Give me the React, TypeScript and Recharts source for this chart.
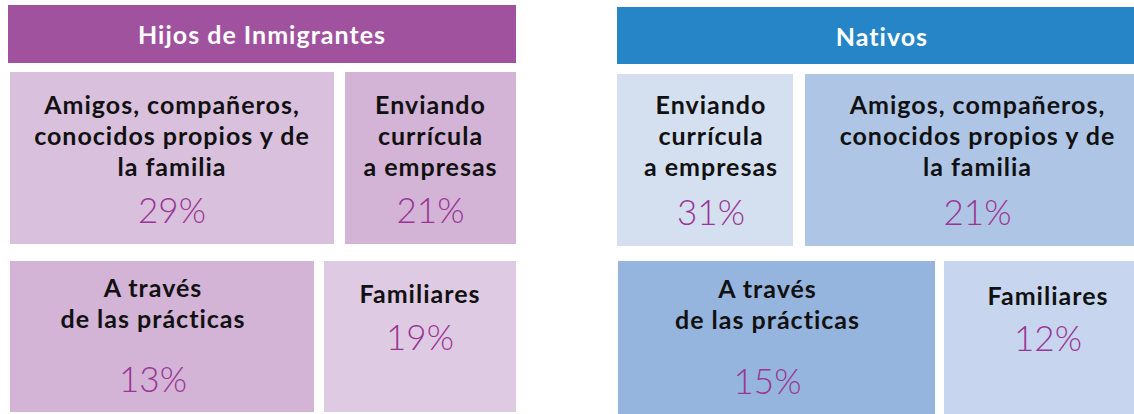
import React from 'react';
import { BarChart, Bar, XAxis, YAxis } from 'recharts';

// panel titles
const panelTitles = ['Hijos de Inmigrantes', 'Nativos'];

// categories and shares, in the order they are laid out (row by row)
const hijosCategories = [
  'Amigos, compañeros,\nconocidos propios y de\nla familia',
  'Enviando\ncurrícula\na empresas',
  'A través\nde las prácticas',
  'Familiares',
];
const hijosValues = [29, 21, 13, 19];

const nativosCategories = [
  'Enviando\ncurrícula\na empresas',
  'Amigos, compañeros,\nconocidos propios y de\nla familia',
  'A través\nde las prácticas',
  'Familiares',
];
const nativosValues = [31, 21, 15, 12];

// ---- layout (not data) ----
const FONT = 'Lato, "Noto Sans", sans-serif';
const PCT_COLOR = '#9A3594';
const LINE_H = 31;

type TileText = { first: number; pct: number; dx: number };
type RowLayout = { left: number; top: number; height: number; widths: [number, number]; gap: number; fills: [string, string]; text: [TileText, TileText] };
type PanelLayout = { header: { left: number; top: number; width: number; height: number; fill: string }; rows: [RowLayout, RowLayout] };

const hijosLayout: PanelLayout = {
  header: { left: 8, top: 5, width: 508, height: 58, fill: '#A1529E' },
  rows: [
    { left: 10, top: 72, height: 172, widths: [324, 171], gap: 11, fills: ['#D9C0DD', '#D3B3D6'],
      text: [{ first: 32, pct: 137, dx: 0 }, { first: 32, pct: 137, dx: 0 }] },
    { left: 10, top: 261, height: 151, widths: [304, 192], gap: 10, fills: ['#D3B3D6', '#DFCAE3'],
      text: [{ first: 26, pct: 117, dx: -9 }, { first: 32, pct: 75, dx: 0 }] },
  ],
};

const nativosLayout: PanelLayout = {
  header: { left: 617, top: 7, width: 530, height: 57, fill: '#2585C6' },
  rows: [
    { left: 617, top: 74, height: 172, widths: [176, 335], gap: 12, fills: ['#D4DFF0', '#AFC5E6'],
      text: [{ first: 30, pct: 137, dx: 6 }, { first: 30, pct: 137, dx: 5 }] },
    { left: 618, top: 261, height: 153, widths: [317, 196], gap: 9, fills: ['#96B5DE', '#C7D6EE'],
      text: [{ first: 27, pct: 119, dx: -9 }, { first: 34, pct: 76, dx: 6 }] },
  ],
};

const makeTile = (fill: string, label: string, value: number, t: TileText) => (props: any) => {
  const { x, y, width, height } = props;
  const lines = label.split('\n');
  const cx = x + width / 2 + t.dx;
  return (
    <g>
      <rect x={x} y={y} width={width} height={height} fill={fill} />
      {lines.map((l, i) => (
        <text key={i} x={cx} y={y + t.first + i * LINE_H} textAnchor="middle" dominantBaseline="central"
          fontFamily={FONT} fontWeight={700} fontSize={25} letterSpacing={1} fill="#111">
          {l}
        </text>
      ))}
      <text x={cx} y={y + t.pct} textAnchor="middle" dominantBaseline="central"
        fontFamily={FONT} fontWeight={300} fontSize={35} fill={PCT_COLOR}>
        {value}%
      </text>
    </g>
  );
};

const Row: React.FC<{ row: RowLayout; labels: string[]; values: number[] }> = ({ row, labels, values }) => {
  const total = row.widths[0] + row.gap + row.widths[1];
  const data = [{ row: 'r', t0: row.widths[0], gap: row.gap, t1: row.widths[1] }];
  return (
    <div style={{ position: 'absolute', left: row.left, top: row.top }}>
      <BarChart width={total} height={row.height} data={data} layout="vertical" barCategoryGap={0}
        margin={{ top: 0, right: 0, bottom: 0, left: 0 }}>
        <XAxis type="number" hide domain={[0, total]} />
        <YAxis type="category" dataKey="row" hide />
        <Bar dataKey="t0" stackId="s" isAnimationActive={false} shape={makeTile(row.fills[0], labels[0], values[0], row.text[0])} />
        <Bar dataKey="gap" stackId="s" isAnimationActive={false} fill="transparent" />
        <Bar dataKey="t1" stackId="s" isAnimationActive={false} shape={makeTile(row.fills[1], labels[1], values[1], row.text[1])} />
      </BarChart>
    </div>
  );
};

const Panel: React.FC<{ title: string; layout: PanelLayout; labels: string[]; values: number[] }> = ({ title, layout, labels, values }) => {
  const h = layout.header;
  return (
    <>
      <div style={{
        position: 'absolute', left: h.left, top: h.top, width: h.width, height: h.height, background: h.fill,
        color: '#fff', fontFamily: FONT, fontWeight: 700, fontSize: 25, letterSpacing: 1, display: 'flex',
        alignItems: 'center', justifyContent: 'center', boxSizing: 'border-box',
      }}>
        {title}
      </div>
      <Row row={layout.rows[0]} labels={labels.slice(0, 2)} values={values.slice(0, 2)} />
      <Row row={layout.rows[1]} labels={labels.slice(2, 4)} values={values.slice(2, 4)} />
    </>
  );
};

export default function App() {
  return (
    <div style={{ position: 'absolute', left: 0, top: 0, width: 1134, height: 414, overflow: 'hidden', background: '#fff' }}>
      <Panel title={panelTitles[0]} layout={hijosLayout} labels={hijosCategories} values={hijosValues} />
      <Panel title={panelTitles[1]} layout={nativosLayout} labels={nativosCategories} values={nativosValues} />
    </div>
  );
}
